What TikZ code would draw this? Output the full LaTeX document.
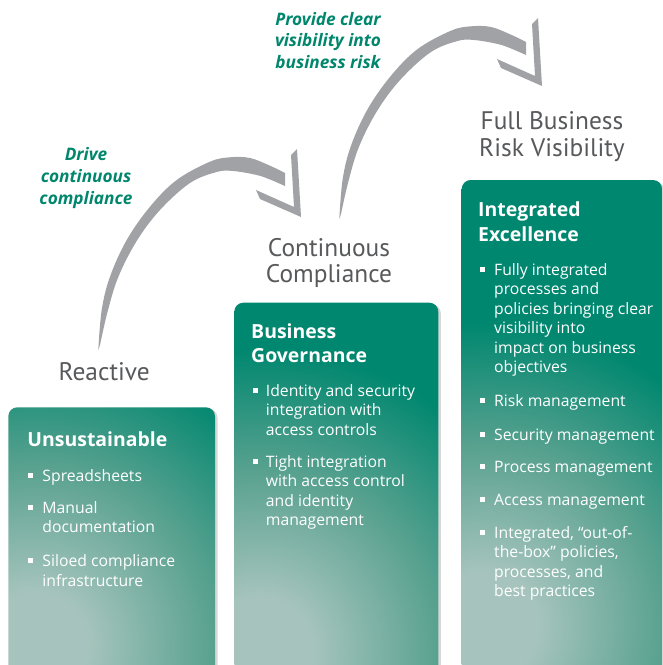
\documentclass[tikz,border=0pt]{standalone}
\usepackage{fontspec}
\setmainfont{Open Sans}
\newfontfamily\stagefont{PT Sans}
\definecolor{labelgray}{HTML}{58595B}
\definecolor{tealtext}{HTML}{00866C}
\definecolor{boxteal}{HTML}{00876F}
\definecolor{glowlight}{HTML}{A6C4BD}
\definecolor{glowmid}{HTML}{5AA290}
\definecolor{arrowgray}{HTML}{A1A2A6}
\pgfdeclareradialshading{boxglow}{\pgfpoint{0bp}{0bp}}{color(0bp)=(glowlight); color(2.5bp)=(glowlight); color(8.5bp)=(glowmid); color(14.5bp)=(boxteal); color(25bp)=(boxteal); color(50bp)=(boxteal)}
\tikzset{
  stage/.style={font=\stagefont\fontsize{25.5}{26.5}\selectfont, text=labelgray, align=center, inner sep=0, anchor=base},
  action/.style={font=\fontsize{17.3}{21.7}\selectfont\bfseries\itshape, text=tealtext, align=center, inner sep=0, anchor=base},
  boxtitle/.style={font=\fontsize{19.5}{24.4}\selectfont\bfseries, text=white, align=left, inner sep=0, anchor=base west},
  item/.style={font=\fontsize{15.8}{19.5}\selectfont, text=white, align=left, inner sep=0, anchor=base west},
  bulletmark/.style={fill=white, minimum size=5bp, inner sep=0, outer sep=0},
  boxshadow/.style={fill=black!35, opacity=0.45, rounded corners=9bp},
  curvearrow/.style={fill=arrowgray}
}
\newcommand{\stepbox}[5]{% left, top, right, glow x, glow y
  \fill[boxshadow] (#1+2.5,#2+1.5) rectangle (#3+2.5,700);
  \begin{scope}
    \clip[rounded corners=9bp] (#1,#2) rectangle (#3,700);
    \shade[shading=boxglow] (#4,#5) circle (520);
  \end{scope}
}
\newcommand{\curvedarrow}{%
  \fill[curvearrow] plot[smooth, tension=0.6] coordinates {(98.3,350) (101.7,310) (110,276.7) (126.7,240) (150,206.7) (176.7,180) (210,161.7) (230,157.3) (250,158) (270,165.7) (285,173)}
    -- plot[smooth, tension=0.6] coordinates {(285,186) (270,179.5) (256.7,175) (233,171) (216.7,172) (190,183) (160,210) (136.7,241) (118.3,277) (107.5,312) (100,345)} -- cycle;
  \fill[curvearrow] (291,155) -- (297,149) -- (301,217) -- (260,199) -- (256,190) -- (294,207) -- cycle;
}
\begin{document}
\begin{tikzpicture}[x=1bp,y=-1bp]
\useasboundingbox (0,0) rectangle (663,665);
\clip (0,0) rectangle (663,665);

% arrows
\begin{scope}\curvedarrow\end{scope}
\begin{scope}[shift={(241,-131)}]\curvedarrow\end{scope}

% boxes
\stepbox{8.3}{407.3}{215}{35}{645}
\stepbox{234.3}{302.7}{438.3}{260}{650}
\stepbox{461.7}{180}{662}{485}{625}

% stage labels (anchor = baseline of last line)
\node[stage] (reactive) at (104.2,380) {Reactive};
\node[stage] (continuous) at (329,282.7) {Continuous\\Compliance};
\node[stage] (full) at (552,156) {Full Business\\Risk Visibility};

% action labels
\node[action] (drive) at (86,204) {Drive\\continuous\\compliance};
\node[action] (provide) at (328,68.4) {Provide clear\\visibility into\\business risk};

% box 1
\node[boxtitle] (t1) at (27.3,446.7) {Unsustainable};
\node[item] (i1a) at (42.3,481) {Spreadsheets};
\node[item] (i1b) at (42.3,532.8) {Manual\\documentation};
\node[item] (i1c) at (42.3,586.2) {Siloed compliance\\infrastructure};
\foreach \y in {475,507.3,560.7} \node[bulletmark] at (30.8,\y) {};

% box 2
\node[boxtitle] (t2) at (251,362.7) {Business\\Governance};
\node[item] (i2a) at (265.7,435) {Identity and security\\integration with\\access controls};
\node[item] (i2b) at (265.7,525.8) {Tight integration\\with access control\\and identity\\management};
\foreach \y in {390,461.3} \node[bulletmark] at (255.8,\y) {};

% box 3
\node[boxtitle] (t3) at (478,241.1) {Integrated\\Excellence};
\node[item] (i3a) at (494,372.5) {Fully integrated\\processes and\\policies bringing clear\\visibility into\\impact on business\\objectives};
\node[item] (i3b) at (494,406.7) {Risk management};
\node[item] (i3c) at (494,440) {Security management};
\node[item] (i3d) at (494,472.3) {Process management};
\node[item] (i3e) at (494,505) {Access management};
\node[item] (i3f) at (494,596.8) {Integrated, “out-of-\\the-box” policies,\\processes, and\\best practices};
\foreach \y in {269,400.7,434,466.3,499,532.3} \node[bulletmark] at (482.5,\y) {};
\end{tikzpicture}
\end{document}
